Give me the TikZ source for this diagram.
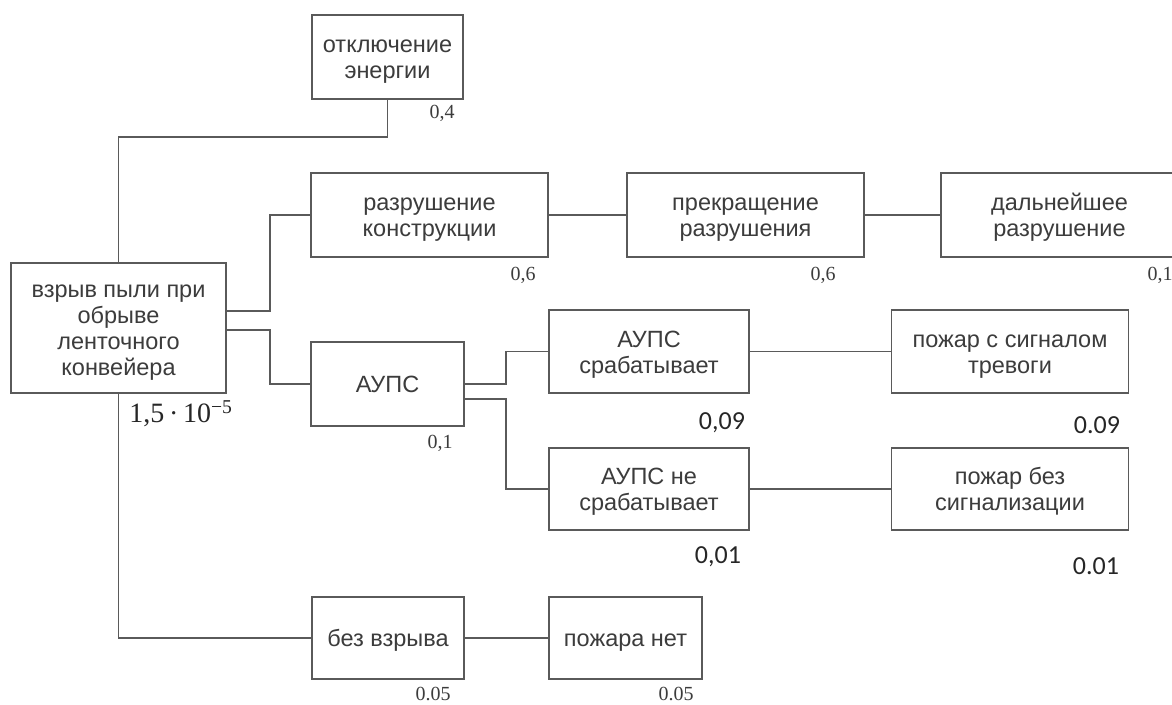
\documentclass[tikz,border=0pt]{standalone}
\usepackage{fontspec}
\setmainfont{Liberation Sans}
\newfontfamily\probfont{Liberation Serif}
\newfontfamily\calcfont{Carlito}
\usepackage{xcolor}
\usetikzlibrary{calc,positioning}
\definecolor{edge}{HTML}{5A5A5A}
\definecolor{ink}{HTML}{3C3C3C}
\newcommand\BoxH{84pt}
\newcommand\BoxW{237pt}
% box text, set a little lower than TeX would centre it
\newcommand\Lines[1]{\raisebox{-3.5pt}[\height][\depth]{\begin{tabular}{@{}c@{}}#1\end{tabular}}}
\tikzset{
  event/.style={
    shape = rectangle,
    draw = edge,
    line width = 1.6pt,
    text = ink,
    inner sep = 0pt,
    minimum height = \BoxH,
    font = \fontsize{23.5}{26}\selectfont
  },
}
\tikzset{
  link/.style={
    draw = edge,
    line width = 1.6pt
  },
  prob/.style={
    text = ink,
    inner sep = 0pt,
    font = \probfont\fontsize{20}{22}\selectfont
  },
  probbig/.style={
    text = black!85,
    inner sep = 0pt,
    font = \calcfont\fontsize{26}{28}\selectfont
  }
}

\begin{document}
\begin{tikzpicture}[x=1pt, y=-1pt]
    \clip (0,0) rectangle (1172,704);
    \fill[white] (0,0) rectangle (1172,704);

    % events
    \node[event, minimum width=151pt] (otkl) at (387.5,57) {\Lines{отключение\\энергии}};
    \node[event, minimum width=215pt, minimum height=130pt] (vzryv) at (118.5,328) {\Lines{взрыв пыли при\\обрыве\\ленточного\\конвейера}};
    \node[event, minimum width=\BoxW] (razr) at (429.5,215) {\Lines{разрушение\\конструкции}};
    \node[event, minimum width=\BoxW] (prekr) at (745.5,215) {\Lines{прекращение\\разрушения}};
    \node[event, minimum width=\BoxW] (daln) at (1059.5,215) {\Lines{дальнейшее\\разрушение}};
    \node[event, minimum width=153pt] (aups) at (387.5,384) {\Lines{АУПС}};
    \node[event, minimum width=200pt, minimum height=83pt] (srab) at (649,351.5) {\Lines{АУПС\\срабатывает}};
    \node[event, minimum width=\BoxW, minimum height=83pt] (pozh1) at (1010,351.5) {\Lines{пожар с сигналом\\тревоги}};
    \node[event, minimum width=200pt, minimum height=82pt] (nesrab) at (649,489) {\Lines{АУПС не\\срабатывает}};
    \node[event, minimum width=\BoxW, minimum height=82pt] (pozh2) at (1010,489) {\Lines{пожар без\\сигнализации}};
    \node[event, minimum width=152pt, minimum height=82pt] (bez) at (388,638) {\Lines{без взрыва}};
    \node[event, minimum width=153pt, minimum height=82pt] (net) at (625.5,638) {\Lines{пожара нет}};

    % probabilities
    \node[prob] (p-otkl) at (442,113) {0,4};
    \node[prob] (p-razr) at (523,275) {0,6};
    \node[prob] (p-prekr) at (823,275) {0,6};
    \node[prob] (p-daln) at (1160,275) {0,1};
    \node[prob] (p-aups) at (440,443) {0,1};
    \node[prob] (p-bez) at (433,694) {0.05};
    \node[prob] (p-net) at (676,694) {0.05};
    \node[probbig] (p-srab) at (722,423) {0,09};
    \node[probbig] (p-pozh1) at (1097,425) {0.09};
    \node[probbig] (p-nesrab) at (718,557) {0,01};
    \node[probbig] (p-pozh2) at (1096,566) {0.01};
    \node[text=black!85, inner sep=0pt, font=\probfont\fontsize{28}{30}\selectfont] (p-vzryv) at (181,414) {1,5\,·\,10\textsuperscript{−5}};

    % connectors
    \coordinate (j-top) at (118.5,137);
    \coordinate (s-up) at (270,311);
    \coordinate (s-dn) at (270,330);
    \coordinate (a-up) at (506,384);
    \coordinate (a-dn) at (506,399);
    \draw[link] (vzryv.north) -- (j-top) -| (otkl.south);
    \draw[link] (vzryv.south) |- (bez.west);
    \draw[link] (vzryv.east |- s-up) -- (s-up) |- (razr.west);
    \draw[link] (vzryv.east |- s-dn) -- (s-dn) |- (aups.west);
    \draw[link] (aups.east |- a-up) -- (a-up) |- (srab.west);
    \draw[link] (aups.east |- a-dn) -- (a-dn) |- (nesrab.west);
    \draw[link] (razr) -- (prekr);
    \draw[link] (prekr) -- (daln);
    \draw[link] (srab) -- (pozh1);
    \draw[link] (nesrab) -- (pozh2);
    \draw[link] (bez) -- (net);
\end{tikzpicture}
\end{document}
